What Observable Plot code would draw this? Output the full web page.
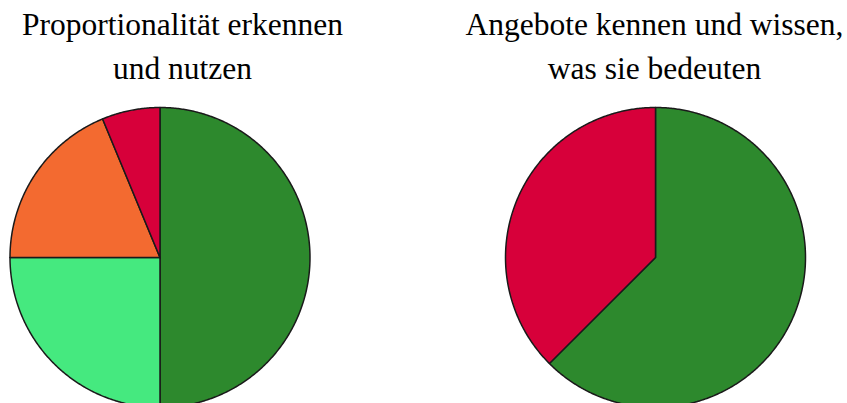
<!DOCTYPE html>
<html>
<head>
<meta charset="utf-8">
<script src="https://cdn.jsdelivr.net/npm/d3@7"></script>
<script src="https://cdn.jsdelivr.net/npm/@observablehq/plot@0.6"></script>
<style>
  html, body { margin: 0; padding: 0; background: #fff; }
  #chart { width: 847px; height: 403px; overflow: hidden; }
</style>
</head>
<body>
<div id="chart"></div>
<script>
// ---- data ----
const categories = ["sehr gut", "gut", "teilweise", "nicht"];
const categoryColors = ["#2d892d", "#45e97f", "#f36a30", "#d7003a"];
const titles1 = ["Proportionalität erkennen", "und nutzen"];
const titles2 = ["Angebote kennen und wissen,", "was sie bedeuten"];
const pie1Categories = ["sehr gut", "gut", "teilweise", "nicht"];
const pie1Values = [50, 25, 18.75, 6.25];
const pie2Categories = ["sehr gut", "nicht"];
const pie2Values = [62.5, 37.5];

// ---- layout ----
const W = 847, H = 403;
const layout = [
  {cx: 159.5, cy: 257, r: 150, tx: 182, titles: titles1, cats: pie1Categories, vals: pie1Values},
  {cx: 655, cy: 257, r: 150, tx: 654, titles: titles2, cats: pie2Categories, vals: pie2Values}
];
const fontSize = 31.5;

// build slice polygons (clockwise from 12 o'clock) from values
const points = [];
const titleRows = [];
layout.forEach((p, pi) => {
  const total = d3.sum(p.vals);
  let start = 0;
  p.vals.forEach((v, i) => {
    const a0 = start / total * 2 * Math.PI;
    const a1 = (start + v) / total * 2 * Math.PI;
    start += v;
    const key = `${pi}-${i}`;
    const color = categoryColors[categories.indexOf(p.cats[i])];
    points.push({key, color, x: p.cx, y: p.cy});
    const n = Math.max(2, Math.ceil((a1 - a0) / (Math.PI / 360)));
    for (let k = 0; k <= n; k++) {
      const a = a0 + (a1 - a0) * k / n;
      points.push({key, color, x: p.cx + p.r * Math.sin(a), y: p.cy - p.r * Math.cos(a)});
    }
    points.push({key, color, x: p.cx, y: p.cy});
  });
  p.titles.forEach((t, li) => titleRows.push({text: t, x: p.tx, y: 12 + li * 44}));
});

const chart = Plot.plot({
  width: W,
  height: H,
  margin: 0,
  x: {domain: [0, W], range: [0, W], axis: null},
  y: {domain: [0, H], range: [0, H], axis: null},
  color: {type: "identity"},
  marks: [
    Plot.line(points, {
      x: "x", y: "y", z: "key",
      fill: "color",
      stroke: "#1a1a1a",
      strokeWidth: 1.5,
      strokeLinejoin: "round",
      curve: "linear"
    }),
    Plot.text(titleRows, {
      x: "x", y: "y", text: "text",
      textAnchor: "middle",
      lineAnchor: "top",
      fontSize: fontSize,
      fontFamily: "Liberation Serif, Times New Roman, serif",
      fill: "#000"
    })
  ]
});
chart.style.fontFamily = "Liberation Serif, serif";
document.getElementById("chart").appendChild(chart);
</script>
</body>
</html>
